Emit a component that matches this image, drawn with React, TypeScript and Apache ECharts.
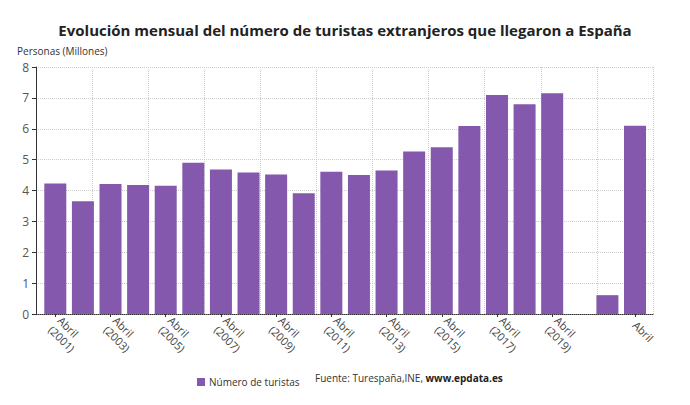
import React, { useEffect, useRef } from "react";
import * as echarts from "echarts";

const categories = [
  "Abril\n(2001)", "Abril\n(2002)", "Abril\n(2003)", "Abril\n(2004)", "Abril\n(2005)",
  "Abril\n(2006)", "Abril\n(2007)", "Abril\n(2008)", "Abril\n(2009)", "Abril\n(2010)",
  "Abril\n(2011)", "Abril\n(2012)", "Abril\n(2013)", "Abril\n(2014)", "Abril\n(2015)",
  "Abril\n(2016)", "Abril\n(2017)", "Abril\n(2018)", "Abril\n(2019)", "Abril\n(2020)",
  "Abril\n(2021)", "Abril",
];
const turistas = [
  4.23, 3.65, 4.21, 4.18, 4.15, 4.9, 4.68, 4.58, 4.52, 3.91, 4.61,
  4.5, 4.65, 5.26, 5.4, 6.09, 7.09, 6.79, 7.15, 0, 0.61, 6.1,
];
const seriesName = "Número de turistas";
const title = "Evolución mensual del número de turistas extranjeros que llegaron a España";
const yAxisTitle = "Personas (Millones)";
const sourceText = "Fuente: Turespaña,INE, ";
const sourceLink = "www.epdata.es";

const FONT = "'Open Sans', 'Noto Sans', sans-serif";
const BAR = "#8458AC";

const showIdx = (i: number) => (i % 2 === 0 && i <= 18) || i === categories.length - 1;

export default function App() {
  const ref = useRef<HTMLDivElement>(null);
  useEffect(() => {
    if (!ref.current) return;
    const chart = echarts.init(ref.current, null, { renderer: "svg" });
    const top = 67;
    const height = 247;
    chart.setOption({
      animation: false,
      backgroundColor: "#fff",
      textStyle: { fontFamily: FONT },
      title: {
        text: title,
        left: "center",
        top: 17,
        textStyle: { fontSize: 15, fontWeight: "bold", color: "#222", fontFamily: FONT },
      },
      legend: {
        data: [seriesName],
        left: 192,
        top: 372,
        icon: "rect",
        itemWidth: 8,
        itemHeight: 8,
        itemGap: 4,
        textStyle: { fontSize: 10, color: "#333", fontFamily: FONT, padding: [0, 0, 0, -1] },
      },
      graphic: [
        {
          type: "text",
          left: 17,
          top: 46,
          style: { text: yAxisTitle, fontSize: 10, fill: "#333", fontFamily: FONT },
        },
        {
          type: "text",
          left: 315,
          top: 373,
          style: {
            text: sourceText + "{b|" + sourceLink + "}",
            fontSize: 10,
            fill: "#333",
            fontFamily: FONT,
            rich: {
              b: { fontSize: 10, fontWeight: "bold", fill: "#222", fontFamily: FONT },
            },
          },
        },
      ],
      grid: [
        { left: 36, right: 37, top, height, containLabel: false },
        { left: 41.5, width: 607.3, top, height, containLabel: false },
      ],
      xAxis: [
        {
          type: "value",
          gridIndex: 0,
          min: 0,
          max: 11,
          interval: 1,
          axisLabel: { show: false },
          axisTick: { show: false },
          axisLine: { show: true, lineStyle: { color: "#333", type: "dotted", width: 1 } },
          splitLine: { show: true, lineStyle: { color: "#ccc", type: "dotted", width: 1 } },
        },
        {
          type: "category",
          gridIndex: 1,
          data: categories,
          boundaryGap: true,
          axisLine: { show: false },
          axisTick: {
            show: true,
            alignWithLabel: true,
            interval: (i: number) => showIdx(i),
            length: 3,
            lineStyle: { color: "#333" },
          },
          axisLabel: {
            interval: (i: number) => showIdx(i),
            rotate: -45,
            margin: 9,
            fontSize: 11,
            color: "#444",
            fontFamily: FONT,
            lineHeight: 13,
          },
          splitLine: { show: false },
        },
      ],
      yAxis: [
        {
          type: "value",
          gridIndex: 0,
          min: 0,
          max: 8,
          interval: 1,
          axisLine: { show: true, lineStyle: { color: "#333", width: 1 } },
          axisTick: { show: true, length: 4, lineStyle: { color: "#333" } },
          axisLabel: { fontSize: 12, color: "#555", margin: 7, fontFamily: FONT },
          splitLine: { show: true, lineStyle: { color: "#ccc", type: "dotted", width: 1 } },
        },
        {
          type: "value",
          gridIndex: 1,
          min: 0,
          max: 8,
          interval: 1,
          show: false,
          splitLine: { show: false },
        },
      ],
      series: [
        {
          name: seriesName,
          type: "bar",
          xAxisIndex: 1,
          yAxisIndex: 1,
          data: turistas,
          barWidth: 22,
          itemStyle: { color: BAR },
        },
      ],
    });
    return () => chart.dispose();
  }, []);
  return (
    <div
      ref={ref}
      style={{ position: "fixed", left: 0, top: 0, width: 690, height: 405, background: "#fff" }}
    />
  );
}
